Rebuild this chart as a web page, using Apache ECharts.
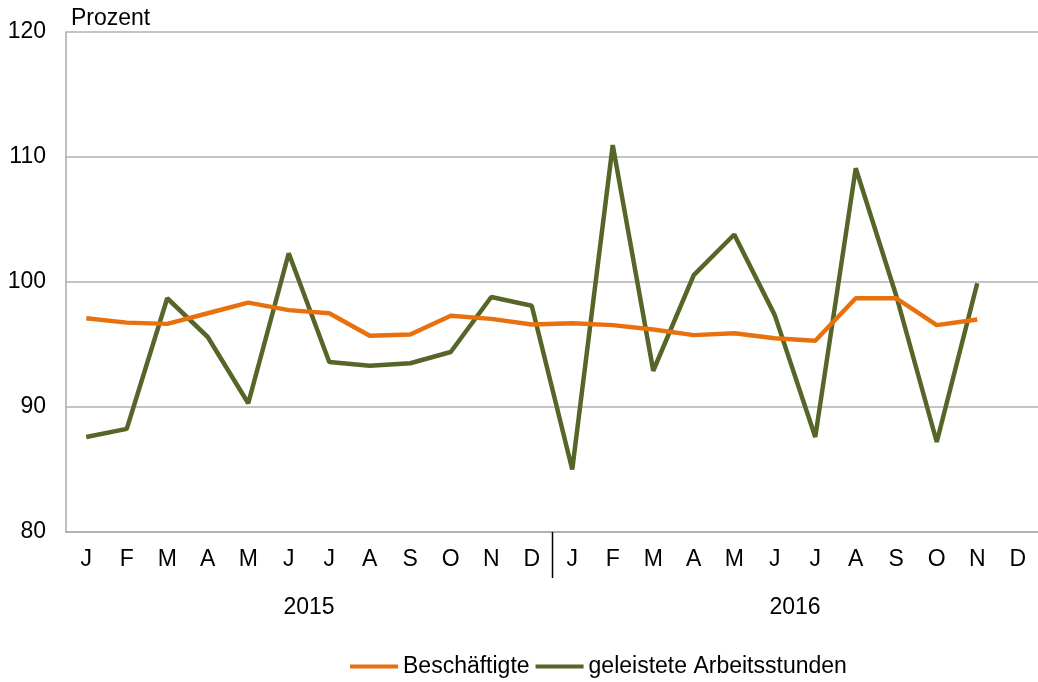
<!DOCTYPE html>
<html><head><meta charset="utf-8">
<script src="https://cdn.jsdelivr.net/npm/echarts@6/dist/echarts.min.js"></script>
<style>html,body{margin:0;padding:0;background:#fff}#c{width:1038px;height:682px}</style>
</head><body><div id="c"></div>
<script>
const months = ['J','F','M','A','M','J','J','A','S','O','N','D','J','F','M','A','M','J','J','A','S','O','N','D'];
const years = ['2015','2016'];
const beschaeftigte = [97.1,96.75,96.65,97.5,98.35,97.75,97.5,95.7,95.8,97.3,97.05,96.6,96.7,96.55,96.2,95.75,95.9,95.5,95.3,98.7,98.7,96.55,97.0,null];
const arbeitsstunden = [87.6,88.25,98.7,95.6,90.3,102.3,93.6,93.3,93.5,94.4,98.8,98.1,85.0,110.95,92.9,100.55,103.8,97.35,87.6,109.1,98.9,87.2,99.9,null];
const yTicks = {min:80, max:120, interval:10};
const font = 'Liberation Sans, Arial, sans-serif';
const FS = 23;
const chart = echarts.init(document.getElementById('c'));
chart.setOption({
  animation:false,
  textStyle:{fontFamily:font},
  grid:{left:66,right:0,top:32,bottom:150,containLabel:false},
  legend:{left:345,top:650,itemWidth:48,itemHeight:4,itemGap:6,icon:'rect',
    textStyle:{fontSize:FS,color:'#000',fontFamily:font},
    data:['Beschäftigte','geleistete Arbeitsstunden']},
  xAxis:[{type:'category',data:months,boundaryGap:true,position:'bottom',
      axisLine:{lineStyle:{color:'#aaaaaa',width:1.5}},
      axisTick:{show:false},
      axisLabel:{fontSize:FS,color:'#000',margin:16,interval:0,fontFamily:font}},
    {type:'category',data:years,position:'bottom',offset:58,gridIndex:0,
      axisLine:{show:false},axisTick:{show:false},
      axisLabel:{fontSize:FS,color:'#000',margin:6,fontFamily:font}}],
  yAxis:{type:'value',min:yTicks.min,max:yTicks.max,interval:yTicks.interval,
    name:'Prozent',nameLocation:'end',nameGap:2,
    nameTextStyle:{fontSize:FS,color:'#000',align:'left',padding:[0,0,0,5],fontFamily:font},
    axisLine:{show:true,lineStyle:{color:'#aaaaaa',width:1.5}},axisTick:{show:false},
    axisLabel:{fontSize:FS,color:'#000',margin:20,fontFamily:font},
    splitLine:{lineStyle:{color:'#b0b0b0',width:1.5}}},
  series:[
    {name:'Beschäftigte',type:'line',data:beschaeftigte,symbol:'none',
      lineStyle:{color:'#E8710E',width:4.5},itemStyle:{color:'#E8710E'},z:3},
    {name:'geleistete Arbeitsstunden',type:'line',data:arbeitsstunden,symbol:'none',
      lineStyle:{color:'#556628',width:4.5},itemStyle:{color:'#556628'},z:2}
  ]
});
// year divider between D (2015) and J (2016), from the axis scale
const pD = chart.convertToPixel({xAxisIndex:0}, 11);
const pJ = chart.convertToPixel({xAxisIndex:0}, 12);
const pB = chart.convertToPixel({yAxisIndex:0}, yTicks.min);
const xd = Math.round((pD + pJ) / 2) + 0.5;
chart.setOption({graphic:[{type:'line',shape:{x1:xd,y1:pB,x2:xd,y2:pB+46},style:{stroke:'#000',lineWidth:1.5},z:10}]});
</script></body></html>
